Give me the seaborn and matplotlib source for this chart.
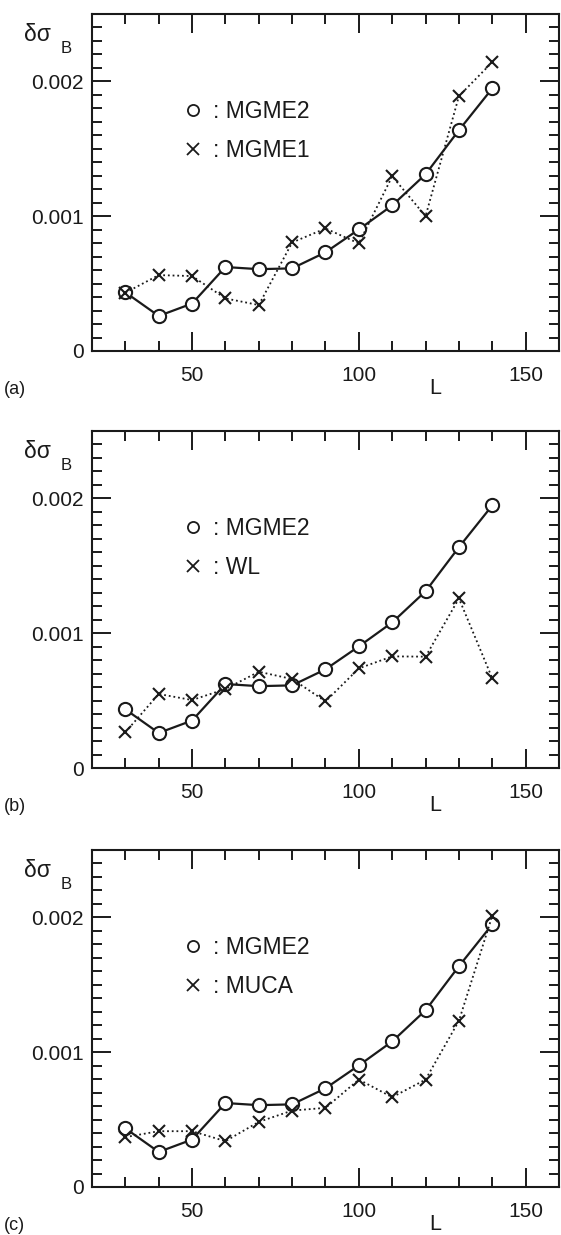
import numpy as np
import pandas as pd
import matplotlib
matplotlib.use("Agg")
import matplotlib.pyplot as plt
import seaborn as sns
from matplotlib.lines import Line2D
from matplotlib.ticker import MultipleLocator

# ---------------- data ----------------
L = [30, 40, 50, 60, 70, 80, 90, 100, 110, 120, 130, 140]
mgme2 = [0.000435, 0.000260, 0.000352, 0.000623, 0.000607, 0.000613,
         0.000732, 0.000902, 0.001080, 0.001311, 0.001638, 0.001948]
mgme1 = [0.000432, 0.000563, 0.000556, 0.000390, 0.000341, 0.000805,
         0.000909, 0.000798, 0.001296, 0.001000, 0.001891, 0.002143]
wl = [0.000265, 0.000549, 0.000504, 0.000586, 0.000714, 0.000660,
      0.000494, 0.000739, 0.000828, 0.000826, 0.001258, 0.000665]
muca = [0.000370, 0.000414, 0.000414, 0.000340, 0.000483, 0.000567,
        0.000587, 0.000797, 0.000666, 0.000797, 0.001233, 0.002012]

ref_name = "MGME2"
compare_names = ["MGME1", "WL", "MUCA"]
compare_values = [mgme1, wl, muca]
panel_tags = ["(a)", "(b)", "(c)"]
ytick_vals = [0, 0.001, 0.002]
ytick_labels = ["0", "0.001", "0.002"]
xtick_vals = [50, 100, 150]
xtick_labels = ["50", "100", "150"]

# ---------------- style ----------------
sns.set_style("ticks")
plt.rcParams["font.family"] = ["Liberation Sans", "DejaVu Sans"]
INK = "#1a1a1a"

W, H, DPI = 561, 1235, 100
fig = plt.figure(figsize=(W / DPI, H / DPI), dpi=DPI)

ax_left, ax_right = 92, 559
ax_h = 337
tops = [14, 431, 850]

for i, top in enumerate(tops):
    ax = fig.add_axes([ax_left / W, (H - top - ax_h) / H,
                       (ax_right - ax_left) / W, ax_h / H])
    df_cmp = pd.DataFrame({"L": L, "v": compare_values[i]})
    df_ref = pd.DataFrame({"L": L, "v": mgme2})

    sns.lineplot(data=df_cmp, x="L", y="v", ax=ax, color=INK,
                 linestyle=(0, (1, 1.6)), linewidth=1.3,
                 marker="x", markersize=8.5, markeredgewidth=1.5,
                 markeredgecolor=INK, markerfacecolor=INK,
                 estimator=None, sort=False, zorder=4)
    sns.lineplot(data=df_ref, x="L", y="v", ax=ax, color=INK,
                 linewidth=1.6, marker="o", markersize=9.5,
                 markerfacecolor="white", markeredgecolor=INK,
                 markeredgewidth=1.5, estimator=None, sort=False, zorder=3)

    ax.set_xlim(20, 160)
    ax.set_ylim(0, 0.0025)
    ax.set_xticks(xtick_vals, labels=xtick_labels)
    ax.set_yticks(ytick_vals, labels=ytick_labels)
    ax.xaxis.set_minor_locator(MultipleLocator(10))
    ax.yaxis.set_minor_locator(MultipleLocator(0.0001))
    ax.tick_params(which="both", direction="in", top=True, right=True,
                   width=1.4, color=INK, labelcolor=INK, labelsize=15)
    ax.tick_params(which="major", length=13.5)
    ax.tick_params(which="minor", length=7.5)
    ax.tick_params(axis="x", which="major", pad=10.5)
    ax.tick_params(axis="y", which="major", pad=6)
    for s in ax.spines.values():
        s.set_linewidth(1.5)
        s.set_color(INK)

    ax.set_ylabel("")
    ax.set_xlabel("L", fontsize=15.5, color=INK, va="top")
    ax.xaxis.set_label_coords((123 - 20) / 140, -27 / ax_h)

    handles = [
        Line2D([], [], ls="none", marker="o", markersize=8,
               markerfacecolor="white", markeredgecolor=INK, markeredgewidth=1.3),
        Line2D([], [], ls="none", marker="x", markersize=8,
               color=INK, markeredgewidth=1.3),
    ]
    ax.legend(handles, [": " + ref_name, ": " + compare_names[i]],
              loc="upper left", bbox_to_anchor=((184 - ax_left) / (ax_right - ax_left), 1 - 86 / ax_h),
              frameon=False, fontsize=16.5, handlelength=0.8, handletextpad=0.45,
              labelspacing=0.68, borderpad=0, borderaxespad=0,
              labelcolor=INK)

    # y-axis symbol
    fig.text(24 / W, (H - (top + 27)) / H, "δσ", fontsize=16.5, color=INK,
             ha="left", va="baseline")
    fig.text(61 / W, (H - (top + 39)) / H, "B", fontsize=12, color=INK,
             ha="left", va="baseline")
    # panel tag
    fig.text(4 / W, (H - (top + ax_h + 43)) / H, panel_tags[i], fontsize=13,
             color=INK, ha="left", va="baseline")

fig.savefig("out.png", dpi=DPI)
